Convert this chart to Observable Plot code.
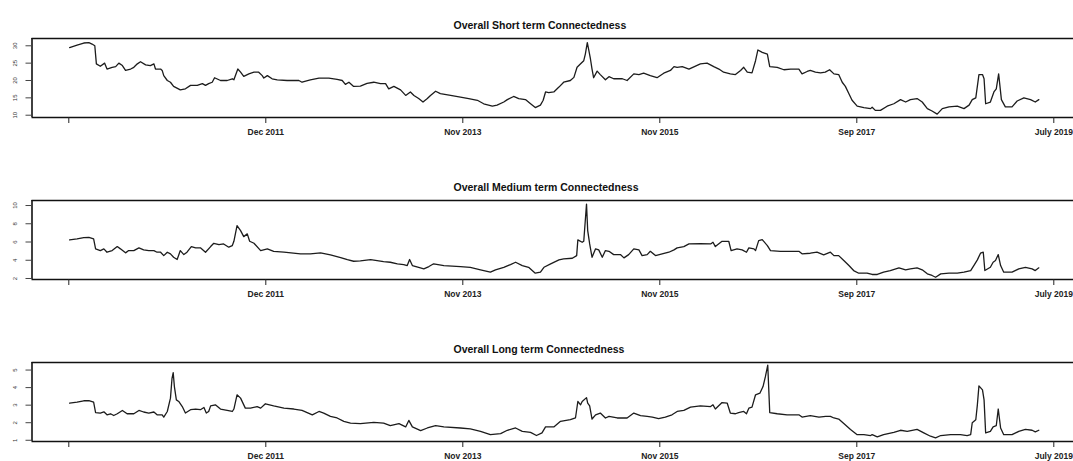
<!DOCTYPE html>
<html>
<head>
<meta charset="utf-8">
<script src="https://cdn.jsdelivr.net/npm/d3@7"></script>
<script src="https://cdn.jsdelivr.net/npm/@observablehq/plot@0.6"></script>
<style>
  html, body { margin: 0; padding: 0; background: #fff; overflow: hidden; }
  #chart svg { display: block; }
</style>
</head>
<body>
<div id="chart"></div>
<script>
// ---- x axis (observation index) ----
const xTickValues = [0, 500, 1000, 1500, 2000, 2500];
const xTickLabels = ["", "Dec 2011", "Nov 2013", "Nov 2015", "Sep 2017", "July 2019"];
const xDomain = [-93.4, 2550];

// ---- titles ----
const titles = [
  "Overall Short term Connectedness",
  "Overall Medium term Connectedness",
  "Overall Long term Connectedness"
];

// ---- y ticks / domains ----
const shortTicks = [10, 15, 20, 25, 30];
const mediumTicks = [2, 4, 6, 8, 10];
const longTicks = [1, 2, 3, 4, 5];
const shortDomain = [9.34, 32.1];
const mediumDomain = [1.89, 10.55];
const longDomain = [0.93, 5.43];

// ---- Short term series ----
const shortIdx = [2,21,38,51,59,66,70,80,91,97,110,119,127,136,144,157,165,174,182,195,207,216,220,233,237,241,250,258,266,283,296,309,326,339,347,355,364,370,385,402,415,419,429,436,444,457,470,482,491,495,504,516,529,554,584,592,613,635,660,681,694,702,711,723,740,757,774,791,804,812,825,842,855,867,876,888,899,910,918,931,943,969,994,1015,1037,1053,1075,1087,1104,1113,1129,1142,1159,1172,1184,1197,1204,1210,1218,1231,1244,1256,1273,1282,1290,1299,1307,1311,1316,1320,1324,1328,1332,1341,1349,1362,1371,1383,1405,1417,1434,1447,1459,1476,1493,1510,1527,1536,1544,1557,1574,1603,1620,1637,1650,1662,1679,1692,1705,1713,1722,1734,1743,1749,1760,1773,1779,1798,1815,1832,1853,1861,1874,1882,1895,1908,1920,1931,1942,1954,1963,1971,1980,1988,2001,2018,2035,2039,2047,2060,2077,2094,2111,2124,2136,2153,2166,2179,2191,2204,2217,2234,2255,2272,2285,2293,2302,2310,2319,2323,2327,2339,2348,2354,2360,2367,2377,2394,2407,2424,2441,2453,2462];
const shortVal = [29.5,30.2,30.8,30.9,30.5,30.0,24.8,24.1,25.0,23.3,23.8,24.0,25.0,24.3,22.9,23.3,23.8,24.8,25.4,24.5,24.3,24.8,23.3,23.3,22.9,21.4,20.0,19.5,18.3,17.3,17.6,18.6,18.6,19.1,18.6,19.1,19.5,20.8,20.0,20.0,20.5,20.2,23.3,22.4,21.2,21.9,22.4,22.4,21.4,20.7,21.4,20.5,20.2,20.0,20.0,19.5,20.2,20.7,20.7,20.3,20.0,18.9,19.5,18.3,18.4,19.2,19.5,19.1,19.1,17.6,18.3,17.3,15.7,16.7,15.7,14.8,13.8,14.8,15.7,16.9,16.2,15.7,15.2,14.8,14.3,13.3,12.6,12.9,13.8,14.5,15.4,14.8,14.5,13.3,12.2,12.9,14.3,16.7,16.5,16.7,18.1,19.5,20.0,20.9,23.8,24.8,25.7,27.6,30.9,28.6,26.2,23.3,20.8,22.7,21.7,20.2,21.1,20.5,20.5,20.0,21.9,21.7,22.1,21.4,20.8,22.1,22.9,24.0,23.8,24.0,23.3,24.8,25.0,24.0,23.3,22.4,21.9,21.7,22.9,23.8,22.4,22.2,25.7,28.8,28.1,27.6,24.0,23.8,23.1,23.3,23.3,21.9,22.6,22.9,22.4,22.2,22.4,23.1,21.9,21.7,19.5,18.3,16.2,14.3,12.6,12.2,11.9,12.3,11.4,11.4,12.6,13.3,14.5,13.8,14.5,14.8,13.8,11.9,11.2,10.3,11.9,12.4,12.6,11.9,12.9,14.5,15.0,21.7,21.7,20.5,13.3,13.8,16.7,17.6,21.9,14.5,12.4,12.4,14.1,15.0,14.5,13.8,14.5];

// ---- Medium term series ----
const mediumIdx = [2,21,38,51,63,68,80,89,97,110,123,131,144,152,165,178,190,203,216,224,233,241,250,258,266,275,283,292,300,311,322,334,347,360,368,381,393,406,415,419,427,436,444,453,459,470,487,504,520,546,588,613,639,664,690,707,723,740,766,799,816,834,850,859,865,872,888,901,914,926,952,994,1019,1045,1070,1083,1104,1121,1134,1151,1167,1184,1197,1206,1223,1244,1256,1278,1289,1292,1303,1307,1314,1317,1322,1328,1337,1345,1354,1362,1371,1383,1400,1409,1421,1434,1447,1455,1468,1476,1489,1506,1523,1536,1544,1561,1574,1603,1629,1635,1641,1658,1675,1681,1696,1709,1720,1726,1739,1743,1751,1760,1773,1781,1806,1832,1853,1861,1882,1899,1916,1933,1942,1954,1967,1980,1992,2005,2026,2039,2052,2068,2085,2107,2124,2136,2153,2166,2179,2191,2200,2213,2234,2255,2272,2289,2297,2306,2314,2321,2325,2339,2346,2352,2359,2365,2373,2394,2411,2428,2445,2453,2462];
const mediumVal = [6.23,6.34,6.48,6.51,6.34,5.25,5.06,5.25,4.88,5.06,5.50,5.25,4.81,5.06,5.06,5.36,5.14,5.06,5.06,4.88,4.88,4.51,4.88,4.70,4.33,4.08,5.06,4.62,4.88,5.50,5.36,5.36,4.88,5.50,5.86,5.72,5.79,5.43,5.61,6.08,7.79,7.25,6.59,6.89,6.08,5.86,5.06,5.25,4.98,4.88,4.70,4.70,4.81,4.59,4.30,4.06,3.89,3.93,4.08,3.86,3.78,3.61,3.53,3.42,4.08,3.42,3.23,3.06,3.31,3.61,3.42,3.31,3.23,2.95,2.69,2.95,3.23,3.53,3.78,3.42,3.23,2.58,2.69,3.23,3.61,4.04,4.15,4.22,4.51,6.23,5.97,6.08,10.16,7.25,5.79,4.33,5.25,5.14,4.33,5.06,4.98,4.62,4.62,4.26,4.62,5.25,5.14,4.51,4.62,4.98,4.51,4.70,4.88,5.14,5.36,5.50,5.79,5.83,5.79,5.97,5.50,6.08,6.08,5.06,5.25,5.14,4.88,5.36,5.25,5.06,6.15,6.26,5.61,5.06,4.98,4.98,4.98,4.70,4.77,4.88,4.59,4.88,4.51,4.51,3.97,3.42,2.87,2.58,2.58,2.44,2.44,2.69,2.87,3.17,2.95,3.06,3.17,2.95,2.51,2.33,2.14,2.51,2.58,2.58,2.69,2.87,3.42,4.04,4.77,4.88,2.87,3.23,3.78,3.97,4.62,3.42,2.69,2.69,3.06,3.23,3.06,2.87,3.17];

// ---- Long term series ----
const longIdx = [2,21,38,51,63,68,80,89,97,106,114,123,136,148,165,178,190,203,216,224,237,241,250,258,262,265,268,273,279,288,296,309,322,334,343,349,355,360,372,385,402,415,419,427,436,448,461,478,487,499,520,546,571,592,605,618,635,647,664,681,698,715,740,774,799,816,838,855,863,872,893,910,931,952,994,1019,1045,1070,1096,1113,1134,1151,1172,1187,1201,1210,1231,1248,1273,1286,1292,1299,1303,1314,1317,1322,1328,1337,1349,1362,1371,1392,1417,1434,1451,1468,1481,1497,1514,1531,1544,1561,1578,1603,1629,1635,1641,1658,1671,1679,1692,1700,1713,1720,1726,1734,1743,1754,1762,1768,1774,1779,1798,1823,1853,1861,1882,1904,1921,1933,1942,1954,1967,1984,2001,2018,2035,2039,2052,2068,2094,2111,2128,2153,2170,2187,2200,2213,2238,2263,2280,2289,2293,2302,2306,2310,2319,2323,2327,2339,2346,2354,2359,2365,2373,2394,2411,2428,2445,2453,2462];
const longVal = [3.12,3.17,3.25,3.26,3.17,2.58,2.55,2.62,2.45,2.51,2.41,2.51,2.70,2.51,2.51,2.70,2.61,2.55,2.61,2.45,2.45,2.32,2.64,3.40,4.53,4.85,4.06,3.30,3.21,2.92,2.55,2.74,2.78,2.74,2.87,2.55,2.64,2.96,3.02,2.78,2.70,2.64,2.78,3.59,3.40,2.83,2.83,2.92,2.83,3.08,2.96,2.83,2.78,2.70,2.58,2.45,2.64,2.55,2.36,2.27,2.08,1.98,1.95,2.02,1.98,1.83,1.95,1.76,2.13,1.76,1.55,1.70,1.83,1.76,1.70,1.65,1.51,1.32,1.38,1.57,1.70,1.51,1.45,1.27,1.42,1.76,1.76,2.08,2.17,2.27,3.21,3.02,3.21,3.43,3.12,2.96,2.21,2.45,2.55,2.27,2.36,2.27,2.27,2.55,2.40,2.36,2.32,2.23,2.32,2.45,2.64,2.70,2.89,2.96,2.92,3.02,2.78,3.15,3.12,2.55,2.51,2.58,2.64,2.51,2.83,2.89,3.59,3.68,4.06,4.62,5.28,2.58,2.51,2.45,2.45,2.32,2.40,2.32,2.36,2.36,2.27,2.21,1.95,1.62,1.32,1.32,1.27,1.32,1.19,1.32,1.45,1.57,1.51,1.62,1.42,1.23,1.14,1.27,1.32,1.32,1.27,1.32,2.00,2.17,3.02,4.10,3.87,3.30,1.42,1.51,1.76,1.83,2.78,1.70,1.32,1.32,1.51,1.62,1.57,1.48,1.57];

// ---- drawing ----
const W = 1073, H = 162;
const FONT = "'Liberation Sans', Arial, Helvetica, sans-serif";

function panel(title, idx, val, yDomain, yTicks) {
  const n = Math.min(idx.length, val.length);
  const data = d3.range(n).map(k => ({i: idx[k], v: val[k]}));
  return Plot.plot({
    width: W,
    height: H,
    marginTop: 38,
    marginBottom: 45,
    marginLeft: 31.5,
    marginRight: 0,
    x: {domain: xDomain, axis: null},
    y: {domain: yDomain, axis: null},
    style: {fontFamily: FONT, background: "#fff", color: "#222", overflow: "visible"},
    marks: [
      Plot.lineY(data, {x: "i", y: "v", stroke: "#1c1c1c", strokeWidth: 1.3, strokeLinejoin: "round"}),
      Plot.ruleY(yDomain, {stroke: "#111", strokeWidth: 1.6}),
      Plot.ruleX([xDomain[0]], {stroke: "#111", strokeWidth: 1.6}),
      Plot.axisX({
        ticks: xTickValues,
        tickSize: 6,
        tickPadding: 5,
        tickFormat: d => xTickLabels[xTickValues.indexOf(d)],
        fontSize: 8.5,
        fontWeight: "bold",
        label: null
      }),
      Plot.axisY({
        ticks: yTicks,
        tickSize: 6,
        tickFormat: () => "",
        label: null,
        stroke: "#444"
      }),
      Plot.text(yTicks, {
        y: d => d,
        text: d => String(d),
        frameAnchor: "left",
        dx: -16.8,
        rotate: -90,
        textAnchor: "middle",
        fontSize: 6,
        fill: "#333"
      }),
      Plot.text([title], {
        text: d => d,
        frameAnchor: "top-left",
        dx: 421.5,
        dy: -17,
        textAnchor: "start",
        fontSize: 10.5,
        fontWeight: "bold",
        fill: "#111"
      })
    ]
  });
}

const chart = document.getElementById("chart");
chart.appendChild(panel(titles[0], shortIdx, shortVal, shortDomain, shortTicks));
chart.appendChild(panel(titles[1], mediumIdx, mediumVal, mediumDomain, mediumTicks));
chart.appendChild(panel(titles[2], longIdx, longVal, longDomain, longTicks));
</script>
</body>
</html>
